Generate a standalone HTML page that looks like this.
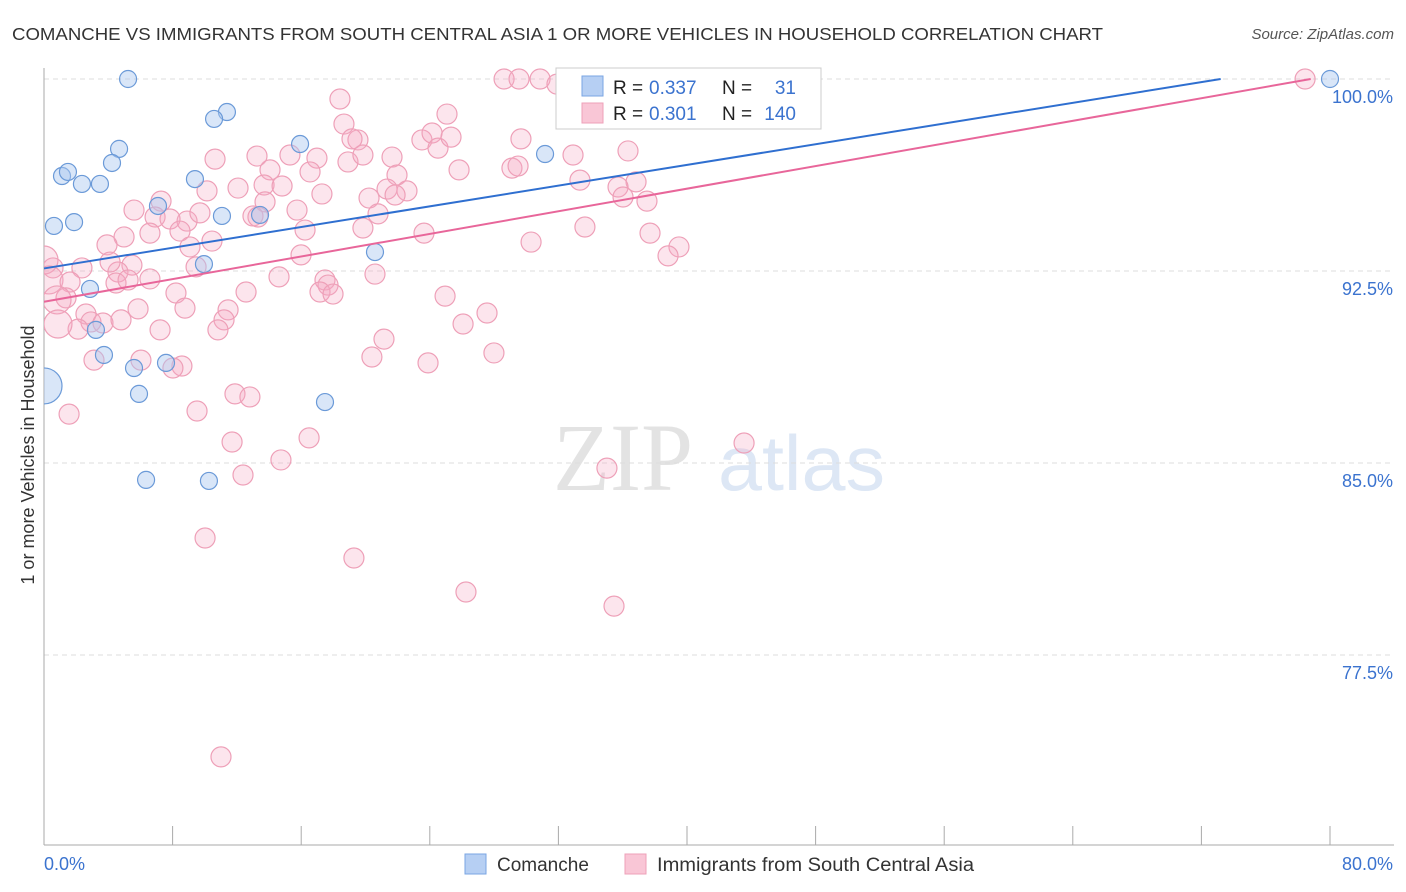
<!DOCTYPE html>
<html><head><meta charset="utf-8">
<style>
body{margin:0;background:#fff;font-family:"Liberation Sans",sans-serif;}
#wrap{position:relative;width:1406px;height:892px;overflow:hidden;}
</style></head>
<body>
<div id="wrap">
<svg id="svg" width="1406" height="892">
<defs><clipPath id="plotclip"><rect x="44" y="50" width="1362" height="800"/></clipPath></defs>
<text x="12" y="40" font-size="17.5" fill="#333" textLength="1091" lengthAdjust="spacingAndGlyphs">COMANCHE VS IMMIGRANTS FROM SOUTH CENTRAL ASIA 1 OR MORE VEHICLES IN HOUSEHOLD CORRELATION CHART</text>
<text x="1394" y="39" font-size="15" fill="#555" font-style="italic" text-anchor="end">Source: ZipAtlas.com</text>
<g>
<text x="553" y="490" font-size="96" fill="#e3e3e3" font-family="Liberation Serif" textLength="140" lengthAdjust="spacingAndGlyphs">ZIP</text>
<text x="718" y="490" font-size="78" fill="#dde7f5" textLength="167" lengthAdjust="spacingAndGlyphs">atlas</text>
</g>
<g id="grid"></g><g id="axes"></g><g id="pts" clip-path="url(#plotclip)"></g><g id="lines"></g>
<g>
<rect x="556" y="68" width="265" height="61" fill="#fff" stroke="#ccc"/>
<rect x="582" y="76" width="21" height="20" fill="#b6cff3" stroke="#7aa5e3"/>
<rect x="582" y="103" width="21" height="20" fill="#f9c6d6" stroke="#eea0b8"/>
<text x="613" y="94" font-size="19" fill="#222">R =</text>
<text x="649" y="94" font-size="19" fill="#3b73cf">0.337</text>
<text x="722" y="94" font-size="19" fill="#222">N =</text>
<text x="796" y="94" font-size="19" fill="#3b73cf" text-anchor="end">31</text>
<text x="613" y="120" font-size="19" fill="#222">R =</text>
<text x="649" y="120" font-size="19" fill="#3b73cf">0.301</text>
<text x="722" y="120" font-size="19" fill="#222">N =</text>
<text x="796" y="120" font-size="19" fill="#3b73cf" text-anchor="end">140</text>
</g>
<g>
<rect x="465" y="854" width="21" height="20" fill="#b6cff3" stroke="#7aa5e3"/>
<text x="497" y="871" font-size="19" fill="#333">Comanche</text>
<rect x="625" y="854" width="21" height="20" fill="#f9c6d6" stroke="#eea0b8"/>
<text x="657" y="871" font-size="19" fill="#333" textLength="317" lengthAdjust="spacingAndGlyphs">Immigrants from South Central Asia</text>
</g>
<text transform="translate(34,455) rotate(-90)" font-size="18" fill="#333" text-anchor="middle">1 or more Vehicles in Household</text>
</svg>
</div>
<script>
const yTicks=[100,92.5,85,77.5];
const yTickLabels=["100.0%","92.5%","85.0%","77.5%"];
const xTicks=[0,8,16,24,32,40,48,56,64,72,80];
const blueX=[5.23,11.38,10.58,4.67,4.23,1.12,1.49,2.36,3.48,0.62,1.87,7.09,9.39,11.07,13.44,15.93,31.17,20.59,9.95,2.86,3.23,3.73,5.60,7.59,5.91,17.48,6.35,10.26,0,80,33.34];
const blueY=[100,98.71,98.44,97.27,96.72,96.21,96.37,95.9,95.9,94.26,94.41,95.04,96.09,94.65,94.69,97.46,97.07,93.24,92.77,91.8,90.2,89.22,88.71,88.91,87.7,87.38,84.34,84.3,88.01,100,100];
const blueBig=[28];
const pinkX=[28.62,29.55,30.86,31.91,32.85,41.62,78.45,18.41,25.07,18.66,19.53,19.16,23.51,24.14,24.51,25.32,29.67,32.91,36.33,10.64,13.25,16.98,15.3,18.91,19.84,21.65,29.11,29.49,25.82,14.06,16.55,21.96,33.34,36.83,35.71,12.07,13.69,14.81,17.29,21.34,22.58,20.22,21.84,10.14,36.02,37.51,5.6,7.28,6.91,8.9,9.7,13.75,15.74,20.78,13.0,13.31,7.84,6.59,8.46,4.98,3.92,10.45,16.24,19.84,23.64,30.3,33.65,37.7,39.5,38.82,9.08,15.99,9.46,5.47,4.6,4.11,2.36,0.56,0,0.31,1.62,1.37,0.81,6.59,4.48,5.23,8.21,12.57,14.62,17.48,17.67,17.17,17.98,20.59,24.95,27.56,26.07,11.45,11.2,10.82,5.85,2.61,2.92,3.67,4.79,2.12,0.87,8.77,7.22,21.15,20.4,23.89,27.99,3.11,6.03,8.58,8.02,11.88,12.81,9.52,1.56,11.7,16.49,14.74,43.55,12.38,35.02,10.02,19.28,26.25,35.46,11.01];
const pinkY=[100,100,100,99.8,100,100,100,99.22,98.63,98.24,97.62,97.66,97.62,97.89,97.3,97.73,97.66,97.03,97.19,96.87,96.99,96.91,97.03,96.76,97.03,96.95,96.52,96.6,96.45,96.45,96.37,96.25,96.05,95.98,95.78,95.74,95.86,95.82,95.51,95.7,95.63,95.35,95.47,95.63,95.39,95.23,94.88,95.23,94.61,94.45,94.77,95.2,94.88,94.73,94.65,94.61,94.53,93.98,94.06,93.83,93.52,93.67,94.1,94.18,93.98,93.63,94.22,93.98,93.44,93.09,93.44,93.13,92.66,92.73,92.46,92.85,92.62,92.62,92.93,92.15,92.07,91.45,91.37,92.19,92.03,92.15,91.64,91.68,92.27,92.15,91.95,91.68,91.6,92.38,91.52,90.86,90.43,90.98,90.59,90.2,91.02,90.82,90.51,90.47,90.59,90.23,90.43,91.05,90.2,89.84,89.14,88.91,89.3,89.02,89.02,88.79,88.71,87.7,87.58,87.03,86.91,85.82,85.98,85.12,85.78,84.53,84.8,82.07,81.29,79.96,79.41,73.52];
const pinkBig=[78,79,82,106];
const blueLine=[[0,92.6],[73.2,100]];
const pinkLine=[[0,91.3],[78.8,100]];
const NS="http://www.w3.org/2000/svg";
const xs=v=>44+v*(1286/80);
const ys=v=>79+(100-v)*25.6;
function mk(tag,attrs,parent){const e=document.createElementNS(NS,tag);for(const k in attrs)e.setAttribute(k,attrs[k]);document.getElementById(parent).appendChild(e);return e;}
yTicks.forEach((t,i)=>{
  const g=mk('line',{x1:44,x2:1394,y1:ys(t),y2:ys(t),stroke:'#ddd','stroke-dasharray':'5,4'},'grid');
  
  
  const l=mk('text',{x:1393,y:ys(t)+24,'font-size':18,fill:'#3b73cf','text-anchor':'end'},'axes');
  l.textContent=yTickLabels[i];
  
  
});
const ax=mk('line',{x1:44,x2:44,y1:68,y2:845,stroke:'#aaa'},'axes');


const bx=mk('line',{x1:44,x2:1394,y1:845,y2:845,stroke:'#aaa'},'axes');


xTicks.forEach(t=>{
  const k=mk('line',{x1:xs(t),x2:xs(t),y1:826,y2:845,stroke:'#aaa'},'axes');
  
  
});
const x0=mk('text',{x:44,y:870,'font-size':18,fill:'#3b73cf'},'axes');x0.textContent='0.0%';


const x1=mk('text',{x:1393,y:870,'font-size':18,fill:'#3b73cf','text-anchor':'end'},'axes');x1.textContent='80.0%';


pinkX.forEach((v,i)=>{
  const c=mk('circle',{cx:xs(v),cy:ys(pinkY[i]),r:pinkBig.includes(i)?14:10,fill:'rgba(246,170,196,0.3)',stroke:'#eea0b8','stroke-width':1.2},'pts');
  
  
});
blueX.forEach((v,i)=>{
  const c=mk('circle',{cx:xs(v),cy:ys(blueY[i]),r:blueBig.includes(i)?18:8.5,fill:'rgba(170,200,240,0.45)',stroke:'#6b9ad8','stroke-width':1.2},'pts');
  
  
});
const bl=mk('line',{x1:xs(blueLine[0][0]),y1:ys(blueLine[0][1]),x2:xs(blueLine[1][0]),y2:ys(blueLine[1][1]),stroke:'#2f6fd0','stroke-width':2},'lines');


const pl=mk('line',{x1:xs(pinkLine[0][0]),y1:ys(pinkLine[0][1]),x2:xs(pinkLine[1][0]),y2:ys(pinkLine[1][1]),stroke:'#e8669a','stroke-width':2},'lines');


</script>
</body></html>
